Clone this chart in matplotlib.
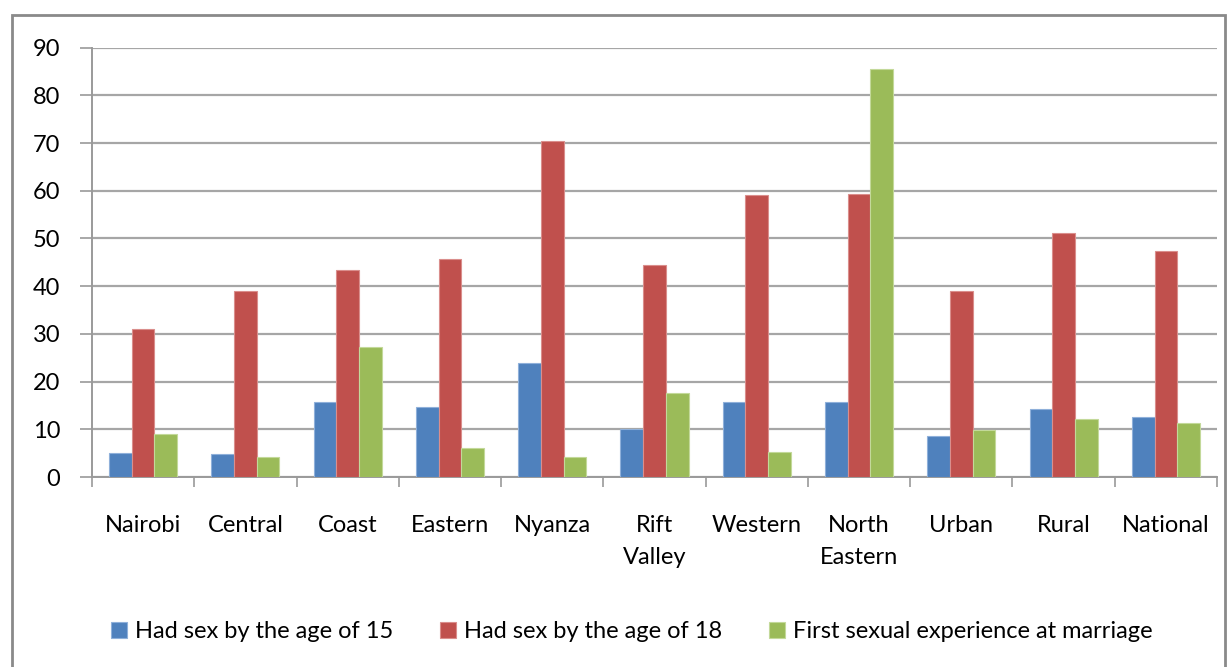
import numpy as np
import matplotlib.pyplot as plt
from matplotlib.patches import Rectangle

# --- DATA ---
regions = ['Nairobi', 'Central', 'Coast', 'Eastern', 'Nyanza', 'Rift\nValley',
           'Western', 'North\nEastern', 'Urban', 'Rural', 'National']
by_age_15 = [5.1, 4.8, 15.7, 14.6, 23.8, 10.1, 15.7, 15.7, 8.7, 14.2, 12.5]
by_age_18 = [31.0, 39.0, 43.3, 45.7, 70.4, 44.5, 59.1, 59.4, 39.0, 51.2, 47.4]
at_marriage = [9.0, 4.1, 27.3, 6.1, 4.1, 17.7, 5.2, 85.6, 9.8, 12.2, 11.3]
series_names = ['Had sex by the age of 15', 'Had sex by the age of 18',
                'First sexual experience at marriage']
y_ticks = [0, 10, 20, 30, 40, 50, 60, 70, 80, 90]

colors = ['#4F81BD', '#C0504D', '#9BBB59']
edges = ['#8FB0DA', '#DA8E8C', '#C3D99A']

plt.rcParams['font.family'] = ['Lato', 'DejaVu Sans']

fig = plt.figure(figsize=(12.32, 6.67), dpi=100)
ax = fig.add_axes([92 / 1232, 1 - 477 / 667, (1217 - 92) / 1232, (477 - 47.7) / 667])

# outer chart frame
fig.patches.append(Rectangle((12 / 1232, -0.05), (1225 - 12) / 1232, 1 - 15 / 667 + 0.05,
                             transform=fig.transFigure, fill=False,
                             edgecolor='#8A8A8A', linewidth=2))

x = np.arange(len(regions))
w = 0.222
for i, vals in enumerate([by_age_15, by_age_18, at_marriage]):
    ax.bar(x + (i - 1) * w, vals, width=w, color=colors[i], edgecolor=edges[i],
           linewidth=0.8, label=series_names[i], zorder=3)

ax.set_xlim(-0.5, len(regions) - 0.5)
ax.set_ylim(0, 90)
ax.set_yticks(y_ticks)
ax.tick_params(axis='y', labelsize=17, length=9, width=1.2, color='#9A9A9A', pad=14)
ax.yaxis.grid(True, color='#A6A6A6', linewidth=1.6, zorder=0)

ax.set_xticks(x)
ax.set_xticklabels(regions, fontsize=17, linespacing=1.65)
ax.tick_params(axis='x', length=0, pad=27)
ax.set_xticks(np.arange(len(regions) + 1) - 0.5, minor=True)
ax.tick_params(axis='x', which='minor', length=7, width=1.2, color='#9A9A9A')

for side in ['top', 'right']:
    ax.spines[side].set_visible(False)
for side in ['left', 'bottom']:
    ax.spines[side].set_color('#9A9A9A')
    ax.spines[side].set_linewidth(1.4)

fig.legend(loc='center', bbox_to_anchor=(0.513, 1 - 632 / 667), ncol=3, frameon=False,
           fontsize=17, handlelength=0.65, handleheight=0.65, handletextpad=0.35,
           columnspacing=2.0)

fig.savefig('out.png', dpi=100)
